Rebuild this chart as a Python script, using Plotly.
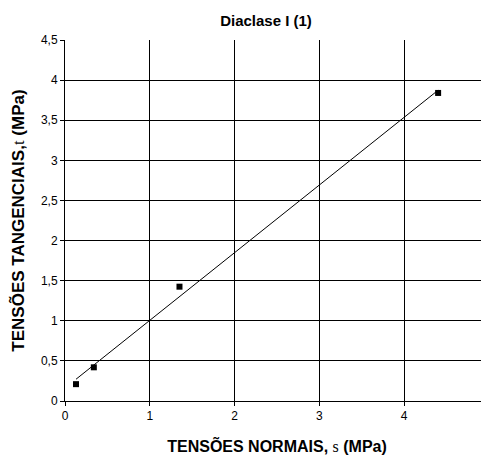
import numpy as np
import plotly.graph_objects as go

# Data
sigma = [0.13, 0.34, 1.35, 4.40]
tau = [0.21, 0.42, 1.425, 3.84]

title_text = "Diaclase I (1)"
x_title = "TENSÕES NORMAIS, <span style='font-family:Liberation Serif;font-weight:normal'>s</span> (MPa)"
y_title = "TENSÕES TANGENCIAIS,<span style='font-family:Liberation Serif;font-weight:normal'>t</span> (MPa)"

# Linear trendline (least squares) over the data span
m, c = np.polyfit(sigma, tau, 1)
xl = [min(sigma), max(sigma)]
yl = [m * v + c for v in xl]

# page body has an 8px margin, so the figure is sized to fit the window
W, H = 481, 447

fig = go.Figure()
fig.add_trace(go.Scatter(x=xl, y=yl, mode="lines",
                         line=dict(color="black", width=1), showlegend=False,
                         hoverinfo="skip"))
fig.add_trace(go.Scatter(x=sigma, y=tau, mode="markers",
                         marker=dict(symbol="square", size=6, color="black"),
                         showlegend=False))

fig.update_layout(
    width=W, height=H,
    margin=dict(l=57, r=0, t=32, b=54, autoexpand=False),
    paper_bgcolor="white", plot_bgcolor="white",
    separators=", ",
    font=dict(family="Liberation Sans, Arial", size=12, color="black"),
    title=dict(text="<b>" + title_text + "</b>", x=258 / W, xanchor="center",
               y=1 - 13 / H, yanchor="middle", automargin=False,
               font=dict(size=15, color="black")),
    xaxis=dict(range=[0, 5], dtick=1, tick0=0, automargin=False,
               showgrid=True, gridcolor="black", gridwidth=1,
               showline=True, linecolor="black", linewidth=1,
               ticks="outside", ticklen=4, tickcolor="black",
               zeroline=False,
               title=dict(text="<b>" + x_title + "</b>",
                          font=dict(size=16), standoff=18)),
    yaxis=dict(range=[0, 4.5], dtick=0.5, tick0=0, automargin=False,
               showgrid=True, gridcolor="black", gridwidth=1,
               showline=True, linecolor="black", linewidth=1,
               ticks="outside", ticklen=4, tickcolor="black",
               zeroline=False,
               title=dict(text="<b>" + y_title + "</b>",
                          font=dict(size=17), standoff=12)),
)

fig.write_html("out.html")
